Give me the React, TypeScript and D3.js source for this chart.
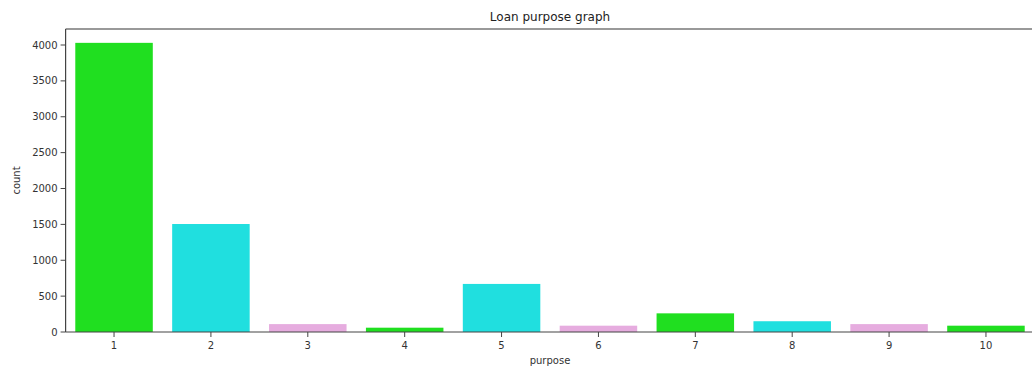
import React from "react";
import * as d3 from "d3";

const categories = ["1", "2", "3", "4", "5", "6", "7", "8", "9", "10"];
const counts = [4030, 1505, 110, 60, 670, 88, 260, 150, 110, 88];
const yTicks = [0, 500, 1000, 1500, 2000, 2500, 3000, 3500, 4000];
const palette = ["#20df20", "#20dfdf", "#e6acdf"];

const W = 1032;
const H = 369;
const left = 65.6;
const right = 1034.4;
const top = 29;
const bottom = 332;

export default function App() {
  const x = d3
    .scaleBand<string>()
    .domain(categories)
    .range([left, right])
    .paddingInner(0.2)
    .paddingOuter(0.1);
  const y = d3.scaleLinear().domain([0, 4223]).range([bottom, top]);
  const font = "'DejaVu Sans', sans-serif";
  const axisColor = "#444";

  return (
    <svg
      width={W}
      height={H}
      style={{ position: "absolute", left: 0, top: 0, display: "block", background: "#fff" }}
    >
      {categories.map((c, i) => (
        <rect
          key={c}
          x={x(c)!}
          y={y(counts[i])}
          width={x.bandwidth()}
          height={bottom - y(counts[i])}
          fill={palette[i % palette.length]}
        />
      ))}
      {/* spines */}
      <line x1={left} x2={right} y1={top} y2={top} stroke="#777" strokeWidth={1.5} />
      <line x1={left} x2={left} y1={top} y2={bottom} stroke={axisColor} strokeWidth={1.2} />
      <line x1={left} x2={right} y1={bottom} y2={bottom} stroke={axisColor} strokeWidth={1.2} />
      <line x1={right} x2={right} y1={top} y2={bottom} stroke={axisColor} strokeWidth={1.2} />
      {/* y ticks */}
      {yTicks.map((t) => (
        <g key={t}>
          <line x1={left - 5} x2={left} y1={y(t)} y2={y(t)} stroke={axisColor} strokeWidth={1} />
          <text
            x={left - 8}
            y={y(t)}
            dy="0.35em"
            textAnchor="end"
            fontFamily={font}
            fontSize={10}
            fill="#333"
          >
            {t}
          </text>
        </g>
      ))}
      {/* x ticks */}
      {categories.map((c) => {
        const cx = x(c)! + x.bandwidth() / 2;
        return (
          <g key={c}>
            <line x1={cx} x2={cx} y1={bottom} y2={bottom + 5} stroke={axisColor} strokeWidth={1} />
            <text
              x={cx}
              y={bottom + 17}
              textAnchor="middle"
              fontFamily={font}
              fontSize={10}
              fill="#333"
            >
              {c}
            </text>
          </g>
        );
      })}
      <text
        x={(left + right) / 2}
        y={364}
        textAnchor="middle"
        fontFamily={font}
        fontSize={10}
        fill="#333"
      >
        purpose
      </text>
      <text
        transform={`translate(20, ${(top + bottom) / 2}) rotate(-90)`}
        textAnchor="middle"
        fontFamily={font}
        fontSize={10}
        fill="#333"
      >
        count
      </text>
      <text
        x={(left + right) / 2}
        y={21}
        textAnchor="middle"
        fontFamily={font}
        fontSize={12}
        fill="#222"
      >
        Loan purpose graph
      </text>
    </svg>
  );
}
